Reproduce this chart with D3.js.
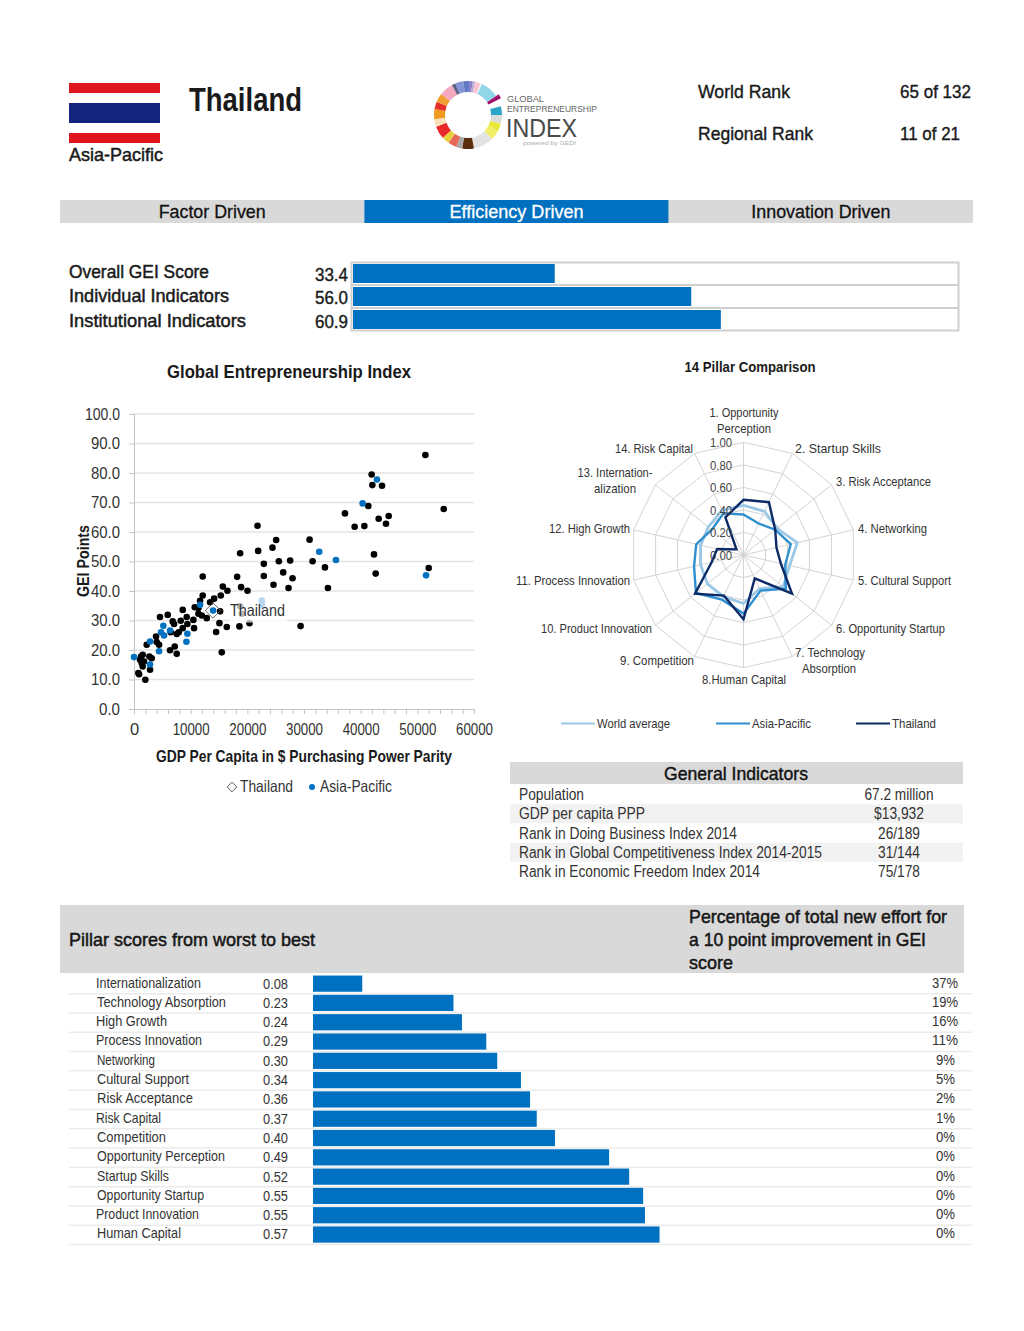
<!DOCTYPE html>
<html>
<head>
<meta charset="utf-8">
<script src="https://cdn.jsdelivr.net/npm/d3@7"></script>
<style>
html,body{margin:0;padding:0;background:#fff;}
text{font-family:"Liberation Sans",Arial,sans-serif;fill:#1a1a1a;}
</style>
</head>
<body>
<div id="chart"></div>
<script>
const stageNames = ['Factor Driven', 'Efficiency Driven', 'Innovation Driven'];
const summaryNames = ['Overall GEI Score', 'Individual Indicators', 'Institutional Indicators'];
const summaryValues = [33.4, 56.0, 60.9];

// scatter, gdp / gei
const otherPoints = [
	[770,12.2],[900,11.8],[1530,18.4],[1240,17.8],[1060,16.7],[1530,14.4],[1350,15.6],[1770,16.1],[2000,9.9],[2830,13.3],
	[3120,17.2],[2710,17.8],[2240,21.8],[3890,24.6],[4000,22.7],[4420,21.8],[4590,31.2],[5950,31.9],[6360,19.9],[7190,21.2],
	[7540,18.7],[6830,29.7],[7070,28.8],[6480,26],[7540,25.4],[7890,26],[8600,33.6],[8250,29.9],[8600,27.4],[9300,31.2],
	[9420,28.8],[10480,30.2],[10600,27.4],[10720,34.5],[11370,34.2],[11660,36.7],[12130,38.5],[12130,44.9],[11370,32.3],[11960,31.7],
	[12840,30.8],[13430,36.2],[14140,37.4],[15310,38.5],[15670,41.5],[16490,40.1],[15200,33.1],[15080,29.1],[16370,27.8],[14490,26.1],
	[15490,19.2],[18730,52.8],[18200,44.8],[18900,41.3],[20030,40.1],[18610,28],[20380,29.1],[18730,34.8],[19020,32.3],[21790,62.1],
	[21910,53.6],[25090,57.3],[24440,54.7],[22910,49.2],[25560,50.1],[27560,50.3],[26330,46.3],[22910,45.1],[24620,42.1],[27270,41],
	[27980,44.3],[29395,28.1],[30985,57.4],[31515,50.1],[33695,48],[34225,41],[37230,66.3],[38935,61.8],[40650,62],[41350,68.8],
	[41940,79.5],[42060,75.9],[43770,75.7],[43180,64.5],[44945,65.4],[44470,62.8],[42350,52.4],[42650,45.9],[51420,86.1],[52010,47.8],
	[54660,67.8]
];
const asiaPoints = [
	[0,17.6],[2830,22.9],[2830,15.1],[4420,19.6],[4770,26],[5180,28.2],[5300,24.9],[6360,26.6],[9420,25.5],[9250,22.8],
	[11660,35.3],[13960,33.4],[22560,36.8],[22560,35.3],[32690,53.3],[35640,50.5],[40350,69.7],[42880,77.8],[51540,45.3]
];
const thailandPoint = [13932, 33.4];
const scatterYTicks = [0,10,20,30,40,50,60,70,80,90,100];
const scatterXTicks = [0,10000,20000,30000,40000,50000,60000];

const radarLabels = [
	['1. Opportunity','Perception'],['2. Startup Skills'],['3. Risk Acceptance'],['4. Networking'],['5. Cultural Support'],
	['6. Opportunity Startup'],['7. Technology','Absorption'],['8.Human Capital'],['9. Competition'],['10. Product Innovation'],
	['11. Process Innovation'],['12. High Growth'],['13. Internation-','alization'],['14. Risk Capital']
];
const worldAverage = [.44,.43,.38,.49,.42,.45,.33,.43,.41,.41,.39,.39,.40,.44];
const asiaPacific = [.36,.31,.36,.43,.38,.48,.35,.52,.44,.54,.45,.43,.36,.41];
const thailand = [.49,.52,.36,.30,.34,.55,.23,.57,.40,.55,.29,.24,.08,.37];
const radarTicks = [0,.2,.4,.6,.8,1];

const indicatorNames = ['Population','GDP per capita PPP','Rank in Doing Business Index 2014','Rank in Global Competitiveness Index 2014-2015','Rank in Economic Freedom Index 2014'];
const indicatorValues = ['67.2 million','$13,932','26/189','31/144','75/178'];

const pillarNames = ['Internationalization','Technology Absorption','High Growth','Process Innovation','Networking','Cultural Support','Risk Acceptance','Risk Capital','Competition','Opportunity Perception','Startup Skills','Opportunity Startup','Product Innovation','Human Capital'];
const pillarScores = [.081,.231,.245,.285,.303,.342,.357,.368,.398,.487,.52,.543,.546,.57];
const pillarScoreText = ['0.08','0.23','0.24','0.29','0.30','0.34','0.36','0.37','0.40','0.49','0.52','0.55','0.55','0.57'];
const pillarEffort = [37,19,16,11,9,5,2,1,0,0,0,0,0,0];

// logo ring, degrees clockwise from the top
const logoFrom = [-22,-8,2,8,12,24,56,75,90,105,118,135,170,190,200,215,228,250,263,280,293,308,332];
const logoTo = [-8,2,8,12,22,56,63,90,105,118,135,170,190,200,215,228,250,263,280,293,308,332,338];
const logoColors = ['#8496d6','#6079c6','#8a7fc8','#b7a8dc','#f6c6d4','#8fd6e8','#a5106b','#2aa5c8','#dcdcdc','#e8e83a','#f2ee6a','#e2e2e2','#5a2d0c','#a8a8a8','#e8695a','#e6d23a','#e8282a','#f8e0b8','#f09a1e','#e8302a','#f0a030','#f4a8c0','#5a6080'];

const blue = '#0070c0', grey = '#d9d9d9';
const worldColor = '#9cc8e8', asiaColor = '#2e8fce', thaiColor = '#0c2a66';

const svg = d3.select('#chart').append('svg')
	.attr('width', 1024)
	.attr('height', 1331)
	.style('display', 'block');

// small helper, the source is stretched Arial so widths get forced
const label = (g, x, y, str, size, opts = {}) => {
	const t = g.append('text')
		.attr('x', x)
		.attr('y', y)
		.attr('font-size', size)
		.attr('text-anchor', opts.anchor || 'start')
		.attr('font-weight', opts.bold ? 'bold' : 'normal')
		.text(str);
	if (opts.fill) t.style('fill', opts.fill);
	if (opts.width) t.attr('textLength', opts.width).attr('lengthAdjust', 'spacingAndGlyphs');
	return t;
};

// header
const flagY = d3.scaleLinear().domain([0, 6]).range([83, 143]);
[[0,1,'#e0161e'],[2,4,'#14247e'],[5,6,'#e0161e']].forEach(b => {
	svg.append('rect').attr('x', 69).attr('width', 91)
		.attr('y', flagY(b[0])).attr('height', flagY(b[1]) - flagY(b[0]))
		.attr('fill', b[2]);
});
label(svg, 69, 161, 'Asia-Pacific', 19, {width: 94}).style('stroke', '#1a1a1a').style('stroke-width', .5);
label(svg, 189, 111, 'Thailand', 33, {bold: true, width: 113});

const logo = svg.append('g').attr('transform', 'translate(468,115)');
logoColors.forEach((c, i) => {
	const rad = d3.scaleLinear().domain([0, 360]).range([0, 2 * Math.PI]);
	logo.append('path')
		.attr('d', d3.arc().innerRadius(23).outerRadius(i === 6 ? 37 : 34).startAngle(rad(logoFrom[i])).endAngle(rad(logoTo[i]))())
		.attr('fill', c);
});
label(svg, 507, 101.5, 'GLOBAL', 9, {fill: '#666', width: 37});
label(svg, 507, 111.5, 'ENTREPRENEURSHIP', 9, {fill: '#666', width: 90});
label(svg, 506, 136.5, 'INDEX', 25.5, {fill: '#4a4a4a', width: 71});
label(svg, 523, 145, 'powered by GEDI', 5, {fill: '#aaa', width: 53});

label(svg, 698, 98, 'World Rank', 19, {width: 92}).style('stroke', '#1a1a1a').style('stroke-width', .4);
label(svg, 900, 98, '65 of 132', 19, {width: 71}).style('stroke', '#1a1a1a').style('stroke-width', .4);
label(svg, 698, 140, 'Regional Rank', 19, {width: 115}).style('stroke', '#1a1a1a').style('stroke-width', .4);
label(svg, 900, 140, '11 of 21', 19, {width: 60}).style('stroke', '#1a1a1a').style('stroke-width', .4);

// development stage band
const stageX = d3.scaleBand().domain(stageNames).range([60, 973]);
stageNames.forEach((s, i) => {
	svg.append('rect').attr('x', stageX(s)).attr('y', 200)
		.attr('width', stageX.bandwidth()).attr('height', 23)
		.attr('fill', i === 1 ? blue : grey);
	label(svg, stageX(s) + stageX.bandwidth() / 2, 218, s, 18.5, {anchor: 'middle', fill: i === 1 ? '#fff' : '#111', width: [107, 134, 139][i]})
		.style('stroke', i === 1 ? '#fff' : '#111').style('stroke-width', .3);
});

// summary bars
const sumX = d3.scaleLinear().domain([0, 100]).range([353, 957]);
const sumY = d3.scaleBand().domain(summaryNames).range([262, 331]);
svg.append('rect').attr('x', 351.5).attr('y', 262.5).attr('width', 607).attr('height', 68)
	.attr('fill', 'none').attr('stroke', '#d0d0d0').attr('stroke-width', 2);
summaryNames.forEach((n, i) => {
	const y0 = sumY(n);
	svg.append('rect').attr('x', sumX(0)).attr('y', y0 + 2)
		.attr('width', sumX(summaryValues[i]) - sumX(0)).attr('height', sumY.bandwidth() - 4)
		.attr('fill', blue);
	if (i) svg.append('line').attr('x1', 351).attr('x2', 958).attr('y1', y0).attr('y2', y0)
		.attr('stroke', '#d0d0d0').attr('stroke-width', 2);
	label(svg, 69, 278 + i * 24.3, n, 19, {width: [140, 160, 177][i]}).style('stroke', '#1a1a1a').style('stroke-width', .5);
	label(svg, 348, 281 + i * 23.3, summaryValues[i].toFixed(1), 19, {anchor: 'end', width: 33}).style('stroke', '#1a1a1a').style('stroke-width', .4);
});

// scatter
label(svg, 289, 378, 'Global Entrepreneurship Index', 19, {bold: true, anchor: 'middle', width: 244});
const x = d3.scaleLinear().domain([0, 60000]).range([134, 474]);
const y = d3.scaleLinear().domain([0, 100]).range([709, 414]);
const scatter = svg.append('g');
scatter.append('g').selectAll('line').data(scatterYTicks.slice(1)).join('line')
	.attr('x1', 134).attr('x2', 474)
	.attr('y1', d => y(d)).attr('y2', d => y(d))
	.attr('stroke', '#e3e3e3').attr('stroke-width', 1.3);
const yAxis = d3.axisLeft(y).tickValues(scatterYTicks).tickFormat(d3.format('.1f')).tickSize(5).tickPadding(9);
const xAxis = d3.axisBottom(x).tickValues(d3.range(0, 60001, 2000)).tickFormat(d => scatterXTicks.includes(d) ? d : '').tickSize(5).tickPadding(9);
const yG = scatter.append('g').attr('transform', 'translate(134,0)').call(yAxis);
const xG = scatter.append('g').attr('transform', 'translate(0,709)').call(xAxis);
[yG, xG].forEach(a => {
	a.selectAll('path,line').attr('stroke', '#c4c4c4');
	a.selectAll('text').attr('font-size', 16.5).style('fill', '#333');
});
yG.selectAll('text').attr('textLength', d => d === 100 ? 35 : d === 0 ? 21 : 29).attr('lengthAdjust', 'spacingAndGlyphs');
xG.selectAll('text').filter(d => d > 0 && scatterXTicks.includes(d)).attr('textLength', 37).attr('lengthAdjust', 'spacingAndGlyphs');
scatter.selectAll('.other').data(otherPoints).join('circle').attr('class', 'other')
	.attr('cx', d => x(d[0])).attr('cy', d => y(d[1])).attr('r', 3.3).attr('fill', '#000');
scatter.selectAll('.asia').data(asiaPoints).join('circle').attr('class', 'asia')
	.attr('cx', d => x(d[0])).attr('cy', d => y(d[1])).attr('r', 3.3).attr('fill', blue);
// label box sits over some points in the source
scatter.append('rect').attr('x', x(thailandPoint[0]) + 16).attr('y', y(thailandPoint[1]) - 14)
	.attr('width', 58).attr('height', 26).attr('fill', '#fff').attr('opacity', .72);
const diamond = d3.symbol().type(d3.symbolDiamond2).size(150);
scatter.append('path').attr('d', diamond())
	.attr('transform', `translate(${x(thailandPoint[0])},${y(thailandPoint[1])})`)
	.attr('fill', 'none').attr('stroke', '#666');
label(scatter, x(thailandPoint[0]) + 17, y(thailandPoint[1]) + 6, 'Thailand', 16.5, {fill: '#333', width: 55});
label(svg, 0, 0, 'GEI Points', 16, {bold: true, anchor: 'middle', width: 72})
	.attr('transform', 'translate(88.5,561) rotate(-90)');
label(svg, 304, 762, 'GDP Per Capita in $ Purchasing Power Parity', 16.5, {bold: true, anchor: 'middle', width: 296});
svg.append('path').attr('d', d3.symbol().type(d3.symbolDiamond2).size(60)())
	.attr('transform', 'translate(232,787)').attr('fill', 'none').attr('stroke', '#555');
label(svg, 240, 792, 'Thailand', 16.5, {fill: '#333', width: 53});
svg.append('circle').attr('cx', 312).attr('cy', 787).attr('r', 3).attr('fill', blue);
label(svg, 320, 792, 'Asia-Pacific', 16.5, {fill: '#333', width: 72});

// radar
label(svg, 750, 372, '14 Pillar Comparison', 15, {bold: true, anchor: 'middle', width: 131});
const radar = svg.append('g').attr('transform', 'translate(743.5,555)');
const r = d3.scaleLinear().domain([0, 1]).range([0, 112.7]);
const angle = i => i / radarLabels.length * 2 * Math.PI;
const radarLine = d3.lineRadial().radius(d => r(d)).angle((d, i) => angle(i)).curve(d3.curveLinearClosed);
radarTicks.slice(1).forEach(t => {
	radar.append('path').attr('d', radarLine(radarLabels.map(() => t)))
		.attr('fill', 'none').attr('stroke', '#d4d4d4').attr('stroke-width', 1);
});
radarLabels.forEach((l, i) => {
	radar.append('line')
		.attr('x2', r(1) * Math.sin(angle(i))).attr('y2', -r(1) * Math.cos(angle(i)))
		.attr('stroke', '#d4d4d4');
});
[[worldAverage, worldColor, 2.8], [asiaPacific, asiaColor, 2.4], [thailand, thaiColor, 2.4]].forEach(s => {
	radar.append('path').attr('d', radarLine(s[0]))
		.attr('fill', 'none').attr('stroke', s[1]).attr('stroke-width', s[2]);
});
radarTicks.forEach(t => {
	label(radar, -11.5, -r(t) + 5, t.toFixed(2), 13.5, {anchor: 'end', fill: '#444', width: 22});
});
const radarPos = [[744,[417,433],'middle'],[795,[453],'start'],[836,[486],'start'],[858,[533],'start'],[858,[585],'start'],[836,[633],'start'],[795,[657,673],'start'],[744,[684],'middle'],[694,[665],'end'],[652,[633],'end'],[630,[585],'end'],[630,[533],'end'],[615,[477,493],'middle'],[693,[453],'end']];
const radarWidths = [[69,54],[86],[95],[69],[93],[109],[70,54],[84],[74],[111],[114],[81],[75,42],[78]];
radarLabels.forEach((lines, i) => {
	lines.forEach((l, j) => {
		label(svg, radarPos[i][0] + (i === 6 && j === 1 ? 34 : 0), radarPos[i][1][j], l, 13.5, {anchor: i === 6 && j === 1 ? 'middle' : radarPos[i][2], fill: '#333', width: radarWidths[i][j]});
	});
});
[[561, 'World average', worldColor, 73], [716, 'Asia-Pacific', asiaColor, 59], [856, 'Thailand', thaiColor, 44]].forEach(k => {
	svg.append('line').attr('x1', k[0]).attr('x2', k[0] + 34).attr('y1', 723.5).attr('y2', 723.5)
		.attr('stroke', k[2]).attr('stroke-width', 2.2);
	label(svg, k[0] + 36, 728, k[1], 13.5, {fill: '#333', width: k[3]});
});

// general indicators
svg.append('rect').attr('x', 510).attr('y', 762).attr('width', 453).attr('height', 22).attr('fill', grey);
label(svg, 736, 780, 'General Indicators', 18.5, {anchor: 'middle', fill: '#111', width: 144}).style('stroke', '#111').style('stroke-width', .4);
const nameWidths = [65, 126, 218, 303, 241];
const valueWidths = [69, 50, 42, 42, 42];
indicatorNames.forEach((n, i) => {
	const yy = 785 + i * 19.25;
	if (i % 2) svg.append('rect').attr('x', 510).attr('y', yy).attr('width', 453).attr('height', 19).attr('fill', '#f2f2f2');
	label(svg, 519, yy + 15, n, 16, {fill: '#333', width: nameWidths[i]});
	label(svg, 899, yy + 15, indicatorValues[i], 16, {anchor: 'middle', fill: '#333', width: valueWidths[i]});
});

// pillars
svg.append('rect').attr('x', 60).attr('y', 905).attr('width', 904).attr('height', 68).attr('fill', grey);
label(svg, 69, 946, 'Pillar scores from worst to best', 19, {width: 246}).style('stroke', '#111').style('stroke-width', .5);
['Percentage of total new effort for', 'a 10 point improvement in GEI', 'score'].forEach((t, i) => {
	label(svg, 689, 923 + i * 23, t, 19, {width: [258, 237, 44][i]}).style('stroke', '#111').style('stroke-width', .5);
});
const barX = d3.scaleLinear().domain([0, 1]).range([313, 921]);
const barY = d3.scaleBand().domain(pillarNames).range([974, 1244.2]).paddingInner(.16).paddingOuter(.08);
const nameW = [105, 129, 71, 106, 58, 92, 96, 65, 69, 128, 72, 107, 103, 84];
const nameX = [96, 97, 96, 96, 97, 97, 97, 96, 97, 97, 97, 97, 96, 97];
pillarNames.forEach((n, i) => {
	const by = barY(n);
	const step = barY.step();
	svg.append('line').attr('x1', 69).attr('x2', 972).attr('y1', by + step - 1.2).attr('y2', by + step - 1.2)
		.attr('stroke', '#ebebeb').attr('stroke-width', 1.5);
	svg.append('rect').attr('x', barX(0)).attr('y', by)
		.attr('width', barX(pillarScores[i]) - barX(0)).attr('height', barY.bandwidth())
		.attr('fill', blue);
	label(svg, nameX[i], by + 12, n, 14.5, {fill: '#333', width: nameW[i]});
	label(svg, 263, by + 13, pillarScoreText[i], 14.5, {fill: '#333', width: 25});
	label(svg, pillarEffort[i] > 9 ? 958 : 955, by + 12, pillarEffort[i] + '%', 14.5, {anchor: 'end', fill: '#333', width: pillarEffort[i] > 9 ? 26 : 19});
});
</script>
</body>
</html>
